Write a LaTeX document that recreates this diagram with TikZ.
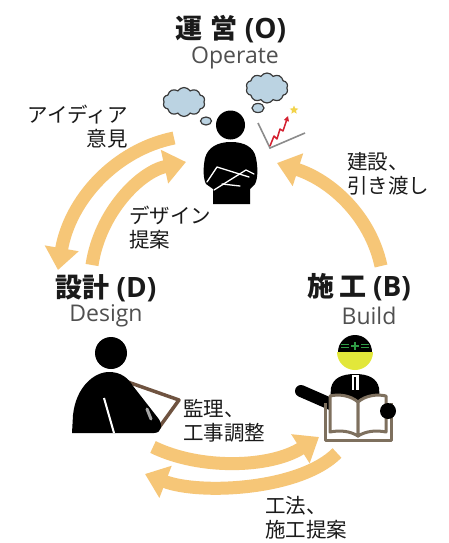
\documentclass[tikz,border=0pt]{standalone}
\usepackage{fontspec}
\usetikzlibrary{arrows.meta,shapes.symbols,shapes.geometric}
\newfontfamily\jp{Noto Sans CJK JP}
\newfontfamily\lat{Open Sans}
\definecolor{arrowc}{HTML}{F6C677}
\definecolor{txt}{HTML}{1A1A1A}
\definecolor{subc}{HTML}{505050}
\definecolor{cloudc}{HTML}{BBD3E2}
\definecolor{cloudline}{HTML}{3A3A3A}
\definecolor{tabletc}{HTML}{6F5340}
\definecolor{bookc}{HTML}{7E705E}
\definecolor{helmetc}{HTML}{E2E73A}
\definecolor{crossc}{HTML}{2F9B45}
\definecolor{chartred}{HTML}{D42030}
\definecolor{axisc}{HTML}{8C8C8C}
\definecolor{starc}{HTML}{F2D34A}
\tikzset{
  flow/.style={line width=13pt, draw=arrowc, -{Triangle[length=22pt,width=33pt]}},
  title/.style={inner sep=0pt, text=txt, font=\jp\bfseries\fontsize{27}{30}\selectfont},
  latpart/.style={},
  subtitle/.style={inner sep=0pt, text=subc, font=\lat\fontsize{23}{26}\selectfont},
  label/.style={inner sep=0pt, text=txt, font=\jp\fontsize{20.5}{24}\selectfont},
  thought/.style={cloud, cloud puffs=10, cloud puff arc=115, draw=cloudline, line width=1.2pt, fill=cloudc, inner sep=0pt},
  bubble/.style={ellipse, draw=cloudline, line width=1.2pt, fill=cloudc, inner sep=0pt},
  armline/.style={draw=white, line width=1.3pt, line join=round, line cap=round},
}
\newcommand{\stagetag}[1]{{\lat\fontsize{28}{30}\selectfont(#1)}}
\begin{document}
\begin{tikzpicture}[x=1pt,y=-1pt]
\useasboundingbox[fill=white] (0,0) rectangle (448,543);

% ---- stage titles ----
\node[title] (tO) at (231,29) {運\hspace{8pt}営\hspace{7pt}\stagetag{O}};
\node[subtitle] (sO) at (235,58) {Operate};
\node[title] (tD) at (106,288) {設計\hspace{7pt}\stagetag{D}};
\node[subtitle] (sD) at (106,316) {Design};
\node[title] (tB) at (359,287) {施\hspace{5pt}工\hspace{7pt}\stagetag{B}};
\node[subtitle] (sB) at (369,316) {Build};

% ---- cycle arrows ----
\coordinate (oL1) at (174,138);
\coordinate (dL1) at (58,270);
\coordinate (dL2) at (92,265);
\coordinate (oL2) at (186,162);
\coordinate (bR) at (381,266);
\coordinate (oR) at (277,163);
\coordinate (dB1) at (153,447);
\coordinate (bB1) at (319,437);
\coordinate (bB2) at (337,453);
\coordinate (dB2) at (145,474);
\draw[flow] (oL1) .. controls (115,150) and (70,200) .. (dL1);
\draw[flow] (dL2) .. controls (100,212) and (140,172) .. (oL2);
\draw[flow] (bR) .. controls (370,215) and (330,180) .. (oR);
\draw[flow] (dB1) .. controls (200,470) and (270,468) .. (bB1);
\draw[flow] (bB2) .. controls (300,490) and (200,495) .. (dB2);

% ---- arrow labels ----
\node[label, anchor=north east, align=right] (lIdea) at (128,105) {アイディア\\意見};
\node[label, anchor=north west, align=left] (lDesign) at (129,206) {デザイン\\提案};
\node[label, anchor=north west, align=left] (lBuild) at (347,152) {建設、\\引き渡し};
\node[label, anchor=north west, align=left] (lSuper) at (183,399) {監理、\\工事調整};
\node[label, anchor=north west, align=left] (lMethod) at (265,496) {工法、\\施工提案};

% ---- operator: thinking figure ----
\node[thought, minimum width=42pt, minimum height=29pt] (cloudL) at (184,102) {};
\node[bubble, minimum width=11pt, minimum height=8pt] (bubL) at (206,121) {};
\node[thought, minimum width=42pt, minimum height=30pt] (cloudR) at (267,88) {};
\node[bubble, minimum width=12pt, minimum height=9pt] (bubR) at (258,108) {};
\fill[black] (230.5,125) circle (14.5);
\fill[black] (213,204) -- (213,189) -- (206,184) .. controls (203,178) and (203,168) .. (205,158)
  .. controls (208,147) and (218,142) .. (231,142) .. controls (244,142) and (254,147) .. (256,158)
  .. controls (258,168) and (258,178) .. (255,184) -- (250,189) -- (250,204) -- cycle;
\draw[armline] (207,182) -- (217,167) -- (249,177);
\draw[armline] (214,190) -- (246,170) -- (254,174);
\draw[armline] (222,184) -- (240,186);
% rising chart
\draw[axisc, line width=1.6pt] (258,123) -- (270,148) -- (305,133);
\draw[chartred, line width=1.5pt, line join=round, -{Triangle[length=5pt,width=5pt]}]
  (270,146) -- (274,136) -- (277,139) -- (280,129) -- (283,131) -- (288,116);
\node[star, star points=5, star point ratio=2.2, fill=starc, minimum size=9pt, inner sep=0pt] (spark) at (294,110) {};

% ---- designer with tablet ----
\draw[tabletc, line width=3.5pt, line join=round] (125,381) -- (179,400) -- (158,429) -- (104,410) -- cycle;
\fill[black] (111,353) circle (16);
\fill[black] (72,433) -- (73,415) .. controls (76,387) and (94,372) .. (109,372)
  .. controls (121,372) and (128,378) .. (133,386) -- (158,418)
  .. controls (163,424) and (162,433) .. (154,433) -- cycle;
\draw[white, line width=2pt] (104,398) -- (114,433);
\draw[gray!70, line width=3pt, line cap=round] (147,409) -- (151,419);

% ---- builder with book ----
\draw[black, line width=12pt, line cap=round] (301,391) -- (333,405);
\fill[black] (330,402) -- (331,388) .. controls (333,378) and (342,374) .. (355,374)
  .. controls (368,374) and (377,378) .. (379,388) -- (380,402) -- cycle;
\fill[white] (351.5,375) rectangle (358.5,390);
\draw[black, line width=1.6pt] (355,377) -- (355,390);
\fill[black] (338,352) arc[start angle=180, end angle=360, radius=17];
\fill[helmetc] (337,352) arc[start angle=180, end angle=0, radius=18] -- cycle;
\draw[crossc, line width=1.8pt] (351,346) -- (359,346) (355,342) -- (355,350);
\draw[crossc, line width=1pt] (341,344.5) -- (349,344.5) (341,347.5) -- (349,347.5)
  (361,344.5) -- (369,344.5) (361,347.5) -- (369,347.5);
\draw[bookc, line width=3pt, line join=round, fill=white]
  (358,402) .. controls (350,395) and (338,394) .. (330,396) -- (330,432)
  .. controls (340,430) and (350,431) .. (358,436) -- cycle;
\draw[bookc, line width=3pt, line join=round, fill=white]
  (358,402) .. controls (366,395) and (378,394) .. (386,396) -- (386,432)
  .. controls (376,430) and (366,431) .. (358,436) -- cycle;
\draw[bookc, line width=3pt, line join=round] (325,403) -- (325,440) -- (391,440) -- (391,403);
\fill[black] (388,411) circle (8);
\end{tikzpicture}
\end{document}
